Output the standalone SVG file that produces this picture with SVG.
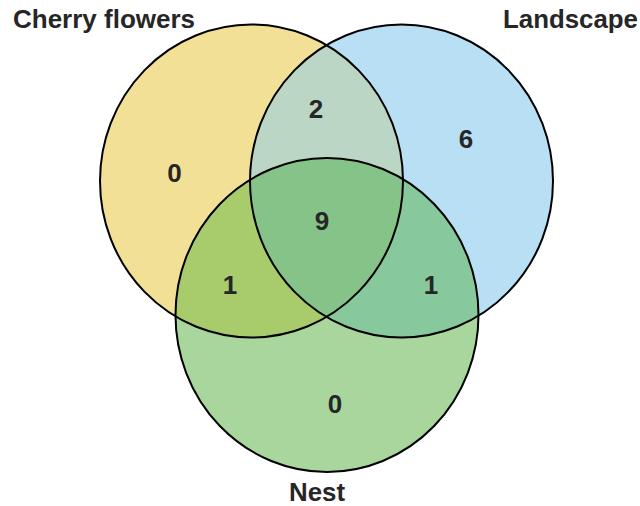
<svg xmlns="http://www.w3.org/2000/svg" width="640" height="506" viewBox="0 0 640 506">
<style>
.lbl{font-family:"Liberation Sans",Arial,sans-serif;font-weight:bold;font-size:25px;fill:#262626}
.num{font-family:"Liberation Sans",Arial,sans-serif;font-weight:bold;font-size:26px;fill:#262626;text-anchor:middle}
.ring{fill:none;stroke:#000;stroke-width:2}
</style>
<defs>
<ellipse id="e1" cx="251.5" cy="181" rx="151.5" ry="156.5"/>
<ellipse id="e2" cx="401.5" cy="181" rx="151.5" ry="156.5"/>
<ellipse id="e3" cx="327" cy="315" rx="151.5" ry="157"/>
<clipPath id="c1"><use href="#e1"/></clipPath>
<clipPath id="c2"><use href="#e2"/></clipPath>
</defs>
<rect width="640" height="506" fill="#fff"/>
<g id="fills">
<use href="#e1" fill="#f2e096"/>
<use href="#e2" fill="#b9dff5"/>
<use href="#e2" fill="#bcd6c6" clip-path="url(#c1)"/>
<use href="#e3" fill="#a8d69c"/>
<use href="#e3" fill="#a8cc6c" clip-path="url(#c1)"/>
<use href="#e3" fill="#87c99c" clip-path="url(#c2)"/>
<g clip-path="url(#c1)"><use href="#e3" fill="#86c388" clip-path="url(#c2)"/></g>
</g>
<g id="cherry-flowers"><use href="#e1" class="ring"/><text class="lbl" x="13" y="28" textLength="182" lengthAdjust="spacingAndGlyphs">Cherry flowers</text></g>
<g id="landscape"><use href="#e2" class="ring"/><text class="lbl" x="503" y="28" textLength="135" lengthAdjust="spacingAndGlyphs">Landscape</text></g>
<g id="nest"><use href="#e3" class="ring"/><text class="lbl" x="289" y="501" textLength="56" lengthAdjust="spacingAndGlyphs">Nest</text></g>
<g id="counts">
<text class="num" x="174.5" y="182">0</text>
<text class="num" x="316" y="118">2</text>
<text class="num" x="466" y="148">6</text>
<text class="num" x="322" y="230">9</text>
<text class="num" x="230" y="294">1</text>
<text class="num" x="431" y="294">1</text>
<text class="num" x="335" y="413">0</text>
</g>
</svg>
